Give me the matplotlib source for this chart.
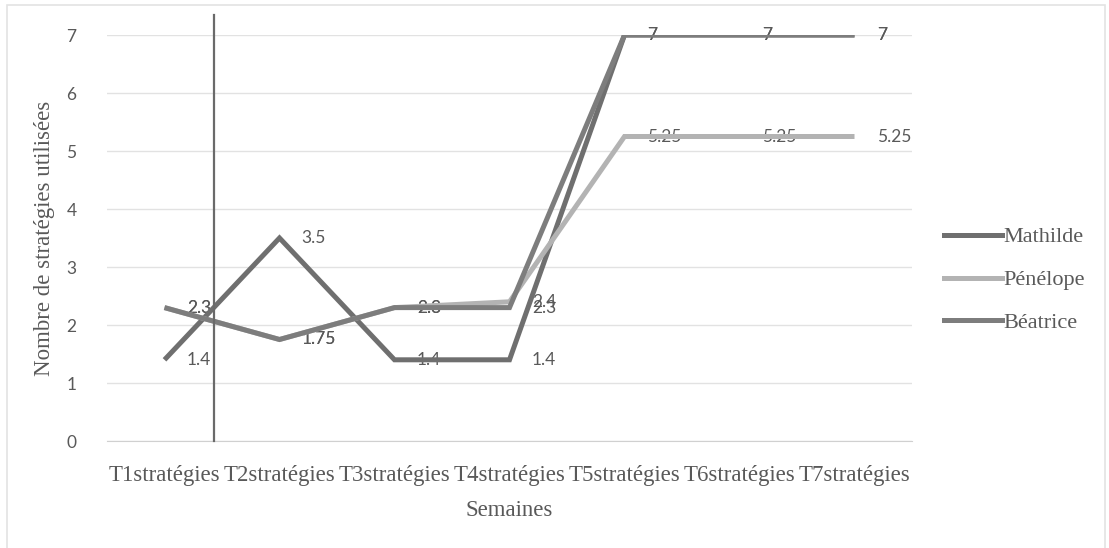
import matplotlib
matplotlib.use("Agg")
import matplotlib.pyplot as plt
from matplotlib.lines import Line2D
from matplotlib.patches import Rectangle

# Weekly count of strategies used by each pupil
weeks = ["T1stratégies", "T2stratégies", "T3stratégies", "T4stratégies",
         "T5stratégies", "T6stratégies", "T7stratégies"]
mathilde = [1.4, 3.5, 1.4, 1.4, 7, 7, 7]
penelope = [2.3, 1.75, 2.3, 2.4, 5.25, 5.25, 5.25]
beatrice = [2.3, 1.75, 2.3, 2.3, 7, 7, 7]

series = [
    ("Mathilde", mathilde, "#6f6f6f"),
    ("Pénélope", penelope, "#b3b3b3"),
    ("Béatrice", beatrice, "#7d7d7d"),
]
y_ticks = [0, 1, 2, 3, 4, 5, 6, 7]
marker_week = 0.43  # vertical rule drawn between the first two weeks

SERIF = "Liberation Serif"
SANS = "Lato"
TEXT = "#595959"

fig = plt.figure(figsize=(11.09, 5.48), dpi=100)
fig.patches.append(Rectangle((0.006, -0.02), 0.99, 1.01, transform=fig.transFigure,
                             fill=False, edgecolor="#e3e3e3", linewidth=1.2))
ax = fig.add_axes([107 / 1109, 1 - 441 / 548, 805 / 1109, 406 / 548])

x = list(range(len(weeks)))
for name, vals, col in series:
    ax.plot(x, vals, color=col, linewidth=3.6, solid_capstyle="butt",
            solid_joinstyle="miter", label=name, zorder=3)
    for xi, v in zip(x, vals):
        lab = f"{v:g}"
        ax.annotate(lab, (xi, v), xytext=(16, 0), textcoords="offset points",
                    ha="left", va="center", fontsize=12.5, family=SANS,
                    color=TEXT, zorder=2)

ax.plot([marker_week, marker_week], [0, 1.05], transform=ax.get_xaxis_transform(),
        color="#6a6a6a", linewidth=1.6, clip_on=False, zorder=4)

ax.set_xlim(-0.5, len(weeks) - 0.5)
ax.set_ylim(0, 7)
ax.set_yticks(y_ticks)
ax.set_yticklabels([str(t) for t in y_ticks], family=SANS, fontsize=12.5, color=TEXT)
ax.set_xticks(x)
ax.set_xticklabels(weeks, family=SERIF, fontsize=16.5, color=TEXT)
ax.tick_params(axis="both", length=0)
ax.tick_params(axis="x", pad=17)
ax.tick_params(axis="y", pad=22)
ax.grid(axis="y", color="#e2e2e2", linewidth=1)
ax.set_axisbelow(True)
for s in ["top", "right", "left"]:
    ax.spines[s].set_visible(False)
ax.spines["bottom"].set_color("#d0d0d0")

ax.set_xlabel("Semaines", family=SERIF, fontsize=16.5, color=TEXT, labelpad=10)
ax.set_ylabel("Nombre de stratégies utilisées", family=SERIF, fontsize=16.5,
              color=TEXT, labelpad=8)

handles = [Line2D([0], [0], color=c, linewidth=3.6) for _, _, c in series]
fig.legend(handles, [n for n, _, _ in series], loc="center left",
           bbox_to_anchor=(924 / 1109, 1 - 280 / 548), frameon=False,
           prop={"family": SERIF, "size": 16}, labelcolor=TEXT,
           handlelength=2.6, handletextpad=0.05, labelspacing=1.0)

fig.savefig("out.png", dpi=100)
